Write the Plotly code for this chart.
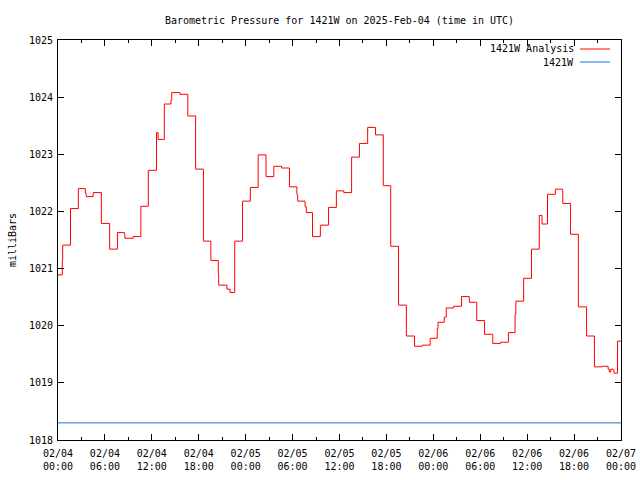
import plotly.graph_objects as go

# Analysis series: step start times (hours since 2025-02-04 00:00 UTC) and pressure (mb)
analysis_hours = [0.0, 0.55, 0.6, 1.6, 2.6, 3.5, 3.6, 4.5, 5.55, 6.6, 7.6, 8.5, 8.55, 9.6,
                  10.6, 11.55, 12.6, 12.8, 13.6, 14.45, 14.55, 15.6, 16.6, 17.6, 18.6, 19.55,
                  20.5, 20.55, 21.6, 22.0, 22.6, 23.6, 24.6, 25.6, 26.6, 27.6, 28.6, 29.6,
                  30.55, 30.65, 31.6, 31.75, 32.55, 33.55, 34.6, 35.6, 36.55, 37.55, 38.55,
                  39.6, 40.6, 41.6, 42.55, 43.55, 44.55, 45.6, 46.6, 47.6, 48.5, 48.6, 49.4,
                  49.65, 50.6, 51.6, 52.6, 53.55, 54.55, 55.6, 56.6, 57.6, 58.45, 58.55,
                  59.55, 60.55, 61.55, 61.9, 62.6, 63.6, 64.55, 65.55, 66.55, 67.6, 68.6,
                  69.6, 70.35, 70.5, 70.7, 71.0, 71.1, 71.55, 72.0]
analysis_mb = [1020.89, 1021.15, 1021.41, 1022.05, 1022.40, 1022.32, 1022.26, 1022.33, 1021.79,
               1021.34, 1021.63, 1021.60, 1021.53, 1021.56, 1022.09, 1022.72, 1023.38, 1023.26,
               1023.88, 1023.95, 1024.08, 1024.05, 1023.67, 1022.74, 1021.48, 1021.14,
               1020.90, 1020.71, 1020.64, 1020.58, 1021.48, 1022.18, 1022.42, 1022.99,
               1022.61, 1022.79, 1022.76, 1022.43, 1022.30, 1022.18, 1022.08, 1021.98,
               1021.56, 1021.76, 1022.07, 1022.36, 1022.33, 1022.95, 1023.19, 1023.47,
               1023.34, 1022.45, 1021.39, 1020.36, 1019.82, 1019.64, 1019.66, 1019.78,
               1019.95, 1020.06, 1020.15, 1020.31, 1020.34, 1020.51, 1020.41, 1020.09,
               1019.85, 1019.69, 1019.71, 1019.88, 1020.20, 1020.43, 1020.83, 1021.34,
               1021.93, 1021.78, 1022.30, 1022.39, 1022.14, 1021.60, 1020.33, 1019.82,
               1019.28, 1019.29, 1019.24, 1019.19, 1019.24, 1019.22, 1019.17, 1019.73, 1019.73]

# Observed series (1421W)
obs_hours = [0.0, 72.0]
obs_mb = [1018.3, 1018.3]

tick_hours = list(range(0, 73, 6))
tick_labels = ["02/04<br>00:00", "02/04<br>06:00", "02/04<br>12:00", "02/04<br>18:00",
               "02/05<br>00:00", "02/05<br>06:00", "02/05<br>12:00", "02/05<br>18:00",
               "02/06<br>00:00", "02/06<br>06:00", "02/06<br>12:00", "02/06<br>18:00",
               "02/07<br>00:00"]
y_ticks = [1018, 1019, 1020, 1021, 1022, 1023, 1024, 1025]

series_names = ["1421W Analysis", "1421W"]
series_colors = ["#ff0000", "#1a76d6"]

font = "DejaVu Sans Mono, Liberation Mono, monospace"
FS = 10

fig = go.Figure()
fig.add_trace(go.Scatter(x=analysis_hours, y=analysis_mb, mode="lines", line_shape="hv",
                         line=dict(color=series_colors[0], width=1), name=series_names[0]))
fig.add_trace(go.Scatter(x=obs_hours, y=obs_mb, mode="lines",
                         line=dict(color=series_colors[1], width=1), name=series_names[1]))

# gnuplot-style legend: right-aligned text with line sample to its right
L, R, T, B = 58, 19, 40, 40
W, H = 640, 480
pw, ph = W - L - R, H - T - B
def px(x):
    return (x - L) / pw
def py(y):
    return 1 - (y - T) / ph

for i, (name, col) in enumerate(zip(series_names, series_colors)):
    yy = 49 + 13 * i
    fig.add_annotation(x=px(576), y=py(yy), xref="paper", yref="paper", text=name,
                       showarrow=False, xanchor="right", yanchor="middle",
                       font=dict(family=font, size=FS, color="black"))
    fig.add_shape(type="line", xref="paper", yref="paper", x0=px(580), x1=px(610),
                  y0=py(yy), y1=py(yy), line=dict(color=col, width=1))

fig.update_layout(
    width=W, height=H,
    margin=dict(l=L, r=R, t=T, b=B),
    paper_bgcolor="white", plot_bgcolor="white",
    font=dict(family=font, size=FS, color="black"),
    title=dict(text="Barometric Pressure for 1421W on 2025-Feb-04 (time in UTC)",
               x=339.5 / 640, xanchor="center", y=1 - 20 / 480, yanchor="middle",
               font=dict(family=font, size=FS, color="black")),
    showlegend=False,
    xaxis=dict(range=[0, 72], tickmode="array", tickvals=tick_hours, ticktext=tick_labels,
               showgrid=False, zeroline=False, showline=True, linecolor="black", linewidth=1,
               mirror="ticks", ticks="inside", ticklen=6, tickcolor="black",
               minor=dict(ticks="inside", dtick=3, ticklen=3, tickcolor="black"),
               tickfont=dict(family=font, size=FS), automargin=False, ticklabelstandoff=4),
    yaxis=dict(range=[1018, 1025], tickmode="array", tickvals=y_ticks,
               ticktext=[str(v) for v in y_ticks],
               showgrid=False, zeroline=False, showline=True, linecolor="black", linewidth=1,
               mirror="ticks", ticks="inside", ticklen=6, tickcolor="black", automargin=False,
               title=dict(text="milliBars", font=dict(family=font, size=FS), standoff=10),
               tickfont=dict(family=font, size=FS), ticklabelstandoff=2),
)

fig.write_html("out.html")
